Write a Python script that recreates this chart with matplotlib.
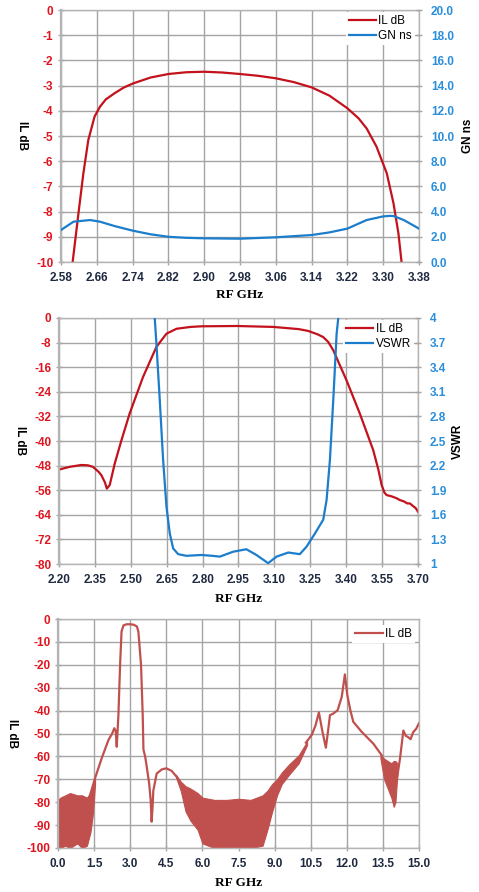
import matplotlib
matplotlib.use("Agg")
import matplotlib.pyplot as plt

# ---------------- data ----------------
# Panel 1: passband detail
p1_freq_il = [2.606, 2.619, 2.630, 2.641, 2.655, 2.667, 2.680, 2.70, 2.72, 2.74, 2.78, 2.82,
              2.86, 2.90, 2.94, 2.98, 3.02, 3.06, 3.10, 3.14, 3.18, 3.22, 3.245, 3.263,
              3.285, 3.308, 3.323, 3.334, 3.341]
p1_il = [-10.0, -8.07, -6.48, -5.16, -4.23, -3.84, -3.55, -3.30, -3.08, -2.92, -2.68, -2.54,
         -2.47, -2.45, -2.48, -2.54, -2.61, -2.71, -2.86, -3.07, -3.40, -3.90, -4.30, -4.70,
         -5.42, -6.48, -7.67, -8.86, -10.0]
p1_freq_gd = [2.58, 2.608, 2.645, 2.667, 2.70, 2.74, 2.78, 2.82, 2.86, 2.90, 2.98, 3.06,
              3.14, 3.18, 3.22, 3.263, 3.30, 3.315, 3.323, 3.346, 3.38]
p1_gd = [2.54, 3.20, 3.33, 3.20, 2.85, 2.49, 2.20, 2.00, 1.92, 1.88, 1.85, 1.96,
         2.14, 2.35, 2.65, 3.33, 3.62, 3.66, 3.65, 3.33, 2.65]

# Panel 2: wider span with VSWR
p2_freq_il = [2.20, 2.245, 2.293, 2.320, 2.342, 2.365, 2.377, 2.392, 2.40, 2.412, 2.433, 2.46,
              2.495, 2.551, 2.607, 2.649, 2.691, 2.75, 2.795, 2.944, 3.095, 3.20, 3.241,
              3.28, 3.304, 3.325, 3.346, 3.401, 3.457, 3.513, 3.535, 3.548, 3.56, 3.569,
              3.59, 3.61, 3.624, 3.64, 3.655, 3.666, 3.68, 3.69, 3.70]
p2_il = [-49.3, -48.4, -47.8, -47.9, -48.4, -50.0, -51.1, -53.5, -55.5, -54.3, -47.3, -40.0,
         -31.1, -19.2, -9.4, -5.1, -3.5, -2.9, -2.7, -2.6, -2.9, -3.6, -4.2,
         -5.3, -6.2, -7.8, -10.5, -20.2, -31.1, -43.0, -49.5, -54.3, -56.8, -57.6,
         -58.0, -58.6, -59.2, -59.6, -60.3, -60.3, -61.2, -61.8, -63.0]
p2_freq_vswr = [2.600, 2.607, 2.621, 2.635, 2.649, 2.663, 2.677, 2.698, 2.732, 2.795, 2.840,
                2.872, 2.928, 2.983, 3.025, 3.074, 3.109, 3.158, 3.206, 3.234, 3.269,
                3.304, 3.318, 3.332, 3.346, 3.360, 3.367]
p2_vswr = [4.00, 3.69, 3.00, 2.27, 1.70, 1.37, 1.19, 1.12, 1.10, 1.11, 1.10,
           1.09, 1.15, 1.18, 1.11, 1.01, 1.09, 1.14, 1.12, 1.21, 1.37,
           1.54, 1.78, 2.27, 3.00, 3.81, 4.00]

# Panel 3: wideband response (clean trace segments)
p3_seg_a_freq = [1.30, 1.54, 1.81, 2.09, 2.25, 2.34, 2.40, 2.44, 2.47, 2.51, 2.58, 2.64, 2.72,
                 2.85, 3.00, 3.15, 3.28, 3.34, 3.45, 3.52, 3.55, 3.62, 3.68, 3.79, 3.85,
                 3.89, 3.93, 3.96, 4.10, 4.31, 4.50, 4.72, 4.93, 5.14]
p3_seg_a_il = [-78.0, -69.5, -61.0, -53.0, -50.0, -47.7, -49.0, -55.8, -50.0, -42.0, -20.0, -5.5,
               -2.8, -2.3, -2.3, -2.5, -3.3, -5.5, -20.0, -42.0, -57.0, -60.0, -64.0, -72.0,
               -79.0, -88.5, -82.0, -75.0, -67.5, -65.7, -65.2, -66.3, -68.9, -73.0]
p3_seg_b_freq = [10.30, 10.54, 10.70, 10.84, 10.99, 11.13, 11.22, 11.30, 11.44, 11.62, 11.79,
                 11.92, 12.02, 12.15, 12.27, 12.62, 13.10, 13.45]
p3_seg_b_il = [-54.0, -50.7, -46.5, -40.8, -49.3, -56.2, -49.0, -42.0, -41.3, -39.8, -34.0,
               -24.2, -33.2, -40.0, -44.9, -49.3, -54.4, -59.5]
p3_seg_c_freq = [14.08, 14.21, 14.35, 14.45, 14.55, 14.65, 14.76, 14.88, 15.00]
p3_seg_c_il = [-70.0, -61.0, -48.7, -51.0, -51.6, -52.5, -49.4, -48.0, -45.5]

# Panel 3: noise-floor bands (upper / lower envelope)
p3_band1_freq = [0.00, 0.10, 0.30, 0.50, 0.80, 1.00, 1.20, 1.35, 1.45, 1.54]
p3_band1_hi = [-79.0, -78.0, -77.0, -76.0, -77.0, -77.0, -78.0, -76.0, -73.0, -69.5]
p3_band1_lo = [-100.0, -100.0, -99.0, -100.0, -98.0, -100.0, -99.0, -93.0, -85.0, -72.0]
p3_band2_freq = [4.90, 5.10, 5.30, 5.50, 5.80, 6.00, 6.50, 7.00, 7.50, 8.00, 8.50, 8.70,
                 8.90, 9.10, 9.30, 9.60, 10.00, 10.35]
p3_band2_hi = [-68.0, -71.0, -73.0, -74.0, -76.0, -78.0, -79.0, -79.0, -78.5, -79.0, -77.0,
               -75.0, -72.0, -70.0, -67.0, -63.5, -59.5, -53.5]
p3_band2_lo = [-69.0, -75.0, -84.0, -88.0, -92.0, -98.0, -100.0, -100.0, -100.0, -100.0,
               -99.0, -92.0, -84.0, -77.0, -72.0, -68.0, -63.0, -55.0]
p3_band3_freq = [13.40, 13.55, 13.70, 13.85, 13.95, 14.02, 14.10]
p3_band3_hi = [-59.0, -61.0, -62.0, -63.0, -62.0, -62.0, -63.0]
p3_band3_lo = [-61.0, -70.0, -74.0, -78.0, -82.0, -80.0, -68.0]

p1_xticks = [2.58, 2.66, 2.74, 2.82, 2.90, 2.98, 3.06, 3.14, 3.22, 3.30, 3.38]
p1_yticks = [0, -1, -2, -3, -4, -5, -6, -7, -8, -9, -10]
p1_y2ticks = [0, 2, 4, 6, 8, 10, 12, 14, 16, 18, 20]
p2_xticks = [2.20, 2.35, 2.50, 2.65, 2.80, 2.95, 3.10, 3.25, 3.40, 3.55, 3.70]
p2_yticks = [0, -8, -16, -24, -32, -40, -48, -56, -64, -72, -80]
p2_y2ticks = [1.0, 1.3, 1.6, 1.9, 2.2, 2.5, 2.8, 3.1, 3.4, 3.7, 4.0]
p3_xticks = [0.0, 1.5, 3.0, 4.5, 6.0, 7.5, 9.0, 10.5, 12.0, 13.5, 15.0]
p3_yticks = [0, -10, -20, -30, -40, -50, -60, -70, -80, -90, -100]

# ---------------- style ----------------
RED = "#C3121C"
RED3 = "#C0504D"
BLUE = "#1B7DCB"
TICKRED = "#E0141E"
TICKBLUE = "#2A8EDB"
XTICK = "#1F2A40"
GRID = "#A4A4A4"
SPINE = "#B4B4B4"
SANS = ["Liberation Sans", "DejaVu Sans"]
SERIF = ["Liberation Serif", "DejaVu Serif"]

W, H = 479, 892
fig = plt.figure(figsize=(W / 100, H / 100), dpi=100)


def frac(l, t, r, b):
    return [l / W, 1 - b / H, (r - l) / W, (b - t) / H]


def style_axes(ax, xt, yt, xlim, ylim, xfmt, yfmt, ylab_x, xlab_y):
    ax.set_xlim(*xlim)
    ax.set_ylim(*ylim)
    ax.set_xticks(xt)
    ax.set_yticks(yt)
    ax.set_xticklabels([xfmt.format(v) for v in xt], fontfamily=SANS, fontweight="bold",
                       fontsize=8.5, color=XTICK)
    ax.set_yticklabels([yfmt.format(v) for v in yt], fontfamily=SANS, fontweight="bold",
                       fontsize=8.5, color=TICKRED)
    ax.grid(True, color=GRID, lw=1.0)
    ax.set_axisbelow(True)
    for s in ax.spines.values():
        s.set_color(SPINE)
        s.set_linewidth(1.0)
    ax.spines["left"].set_linewidth(1.6)
    ax.tick_params(axis="both", direction="inout", length=5, width=1, color=GRID)
    ax.tick_params(axis="x", pad=5)
    ax.tick_params(axis="y", pad=3)
    ax.set_ylabel("IL dB", rotation=-90, fontfamily=SANS, fontweight="bold", fontsize=8.5,
                  color="black", va="center", ha="center")
    ax.yaxis.set_label_coords(ylab_x, 0.5)
    ax.set_xlabel("RF GHz", fontfamily=SERIF, fontweight="bold", fontsize=9.5, color="black",
                  va="center")
    ax.xaxis.set_label_coords(0.5, xlab_y)


def style_right(ax2, yt, ylim, fmt, label, lab_x):
    ax2.set_ylim(*ylim)
    ax2.set_yticks(yt)
    ax2.set_yticklabels([fmt.format(v) for v in yt], fontfamily=SANS, fontweight="bold",
                        fontsize=8.5, color=TICKBLUE)
    ax2.tick_params(axis="y", direction="inout", length=5, width=1, color=GRID, pad=6)
    for s in ax2.spines.values():
        s.set_visible(False)
    ax2.set_ylabel(label, rotation=90, fontfamily=SANS, fontweight="bold", fontsize=8.5,
                   color="black", va="center", ha="center")
    ax2.yaxis.set_label_coords(lab_x, 0.5)


def add_legend(ax, handles, labels, bbox):
    leg = ax.legend(handles, labels, loc="upper right", bbox_to_anchor=bbox,
                    prop={"family": SANS, "size": 8.5}, frameon=True, fancybox=False,
                    handlelength=2.3, handletextpad=0.2, borderpad=0.25, labelspacing=0.25,
                    borderaxespad=0.2)
    leg.get_frame().set_facecolor("white")
    leg.get_frame().set_edgecolor("none")
    leg.get_frame().set_alpha(1.0)
    return leg


# ---------------- panel 1 ----------------
ax1 = fig.add_axes(frac(61, 10, 419, 262))
style_axes(ax1, p1_xticks, p1_yticks, (2.58, 3.38), (-10, 0), "{:.2f}", "{:d}", -0.109, -0.131)
l1, = ax1.plot(p1_freq_il, p1_il, color=RED, lw=1.6)
ax1b = ax1.twinx()
style_right(ax1b, p1_y2ticks, (0, 20), "{:.1f}", "GN ns", 1.137)
l2, = ax1b.plot(p1_freq_gd, p1_gd, color=BLUE, lw=1.6)
add_legend(ax1b, [l1, l2], ["IL dB", "GN ns"], (0.995, 1.0))

# ---------------- panel 2 ----------------
ax2 = fig.add_axes(frac(59, 318, 418, 564))
style_axes(ax2, p2_xticks, p2_yticks, (2.20, 3.70), (-80, 0), "{:.2f}", "{:d}", -0.109, -0.142)
m1, = ax2.plot(p2_freq_il, p2_il, color=RED, lw=1.6)
ax2b = ax2.twinx()
style_right(ax2b, p2_y2ticks, (1.0, 4.0), "{:g}", "VSWR", 1.111)
m2, = ax2b.plot(p2_freq_vswr, p2_vswr, color=BLUE, lw=1.6)
add_legend(ax2b, [m1, m2], ["IL dB", "VSWR"], (0.995, 1.0))

# ---------------- panel 3 ----------------
ax3 = fig.add_axes(frac(58, 619, 419, 848))
style_axes(ax3, p3_xticks, p3_yticks, (0, 15), (-100, 0), "{:.1f}", "{:d}", -0.127, -0.153)
ax3.fill_between(p3_band1_freq, p3_band1_lo, p3_band1_hi, color=RED3, lw=0.8)
ax3.fill_between(p3_band2_freq, p3_band2_lo, p3_band2_hi, color=RED3, lw=0.8)
ax3.fill_between(p3_band3_freq, p3_band3_lo, p3_band3_hi, color=RED3, lw=0.8)
n1, = ax3.plot(p3_seg_a_freq, p3_seg_a_il, color=RED3, lw=1.6)
ax3.plot(p3_seg_b_freq, p3_seg_b_il, color=RED3, lw=1.6)
ax3.plot(p3_seg_c_freq, p3_seg_c_il, color=RED3, lw=1.6)
add_legend(ax3, [n1], ["IL dB"], (0.995, 0.985))

fig.savefig("out.png", dpi=100)
